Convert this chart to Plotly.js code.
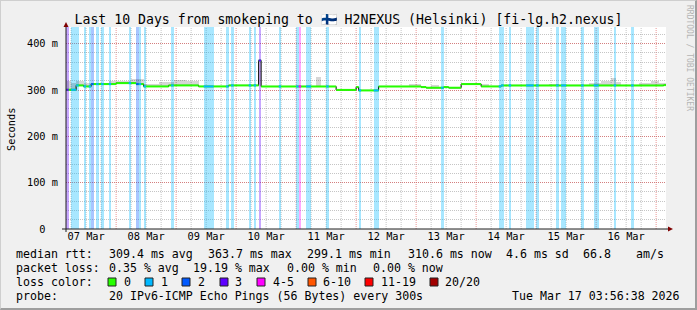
<!DOCTYPE html>
<html><head><meta charset="utf-8">
<script src="https://cdn.plot.ly/plotly-3.0.1.min.js"></script>
<style>
html,body{margin:0;padding:0;background:#f0f0f0;}
#wrap{position:relative;width:697px;height:310px;overflow:hidden;}
#chart{width:697px;height:310px;}
#frame{position:absolute;left:0;top:0;width:697px;height:310px;box-sizing:border-box;border-right:2px solid #9e9e9e;border-bottom:2px solid #9e9e9e;border-top:1px solid #cfcfcf;border-left:1px solid #cfcfcf;pointer-events:none;}
</style></head>
<body><div id="wrap"><div id="chart"></div><div id="frame"></div></div>
<script>
// ---- time frame (hours counted from 2026-03-07 00:00) ----
const rangeStartHour = 3.944;   // Sat Mar 07 03:56:38
const rangeEndHour = 243.944;   // Tue Mar 17 03:56:38
const dayDates = ['2026-03-07','2026-03-08','2026-03-09','2026-03-10','2026-03-11','2026-03-12','2026-03-13','2026-03-14','2026-03-15','2026-03-16'];
const dayLabels = ['07 Mar','08 Mar','09 Mar','10 Mar','11 Mar','12 Mar','13 Mar','14 Mar','15 Mar','16 Mar'];
const yTickVals = [0,100,200,300,400];
const yTickText = ['0','100 m','200 m','300 m','400 m'];

// ---- median rtt (ms), step starts ----
const medianStartHour = [3.944, 8, 11, 14, 24, 32, 35, 45, 57, 69, 81, 82, 112, 120, 121, 129, 146, 148, 155, 157, 162, 170, 178, 243];
const medianMs        = [300.5, 309.9, 307.7, 312.8, 314.9, 312.8, 307.7, 309.9, 307.7, 309.9, 363.7, 307.7, 300.2, 306.3, 299.1, 307.7, 306.3, 304.9, 306.3, 304.9, 312.8, 307.7, 309.9, 310.6];

// ---- packet loss events (lost pings out of 20) ----
const lossStartHour = [4, 6, 11, 13, 14, 16, 18, 21, 29, 32, 33, 35, 46, 59, 68, 70, 77, 79, 81, 89, 96, 97, 100, 108, 121, 127, 154, 177, 181, 188, 192, 200, 202, 210, 215, 223, 230];
const lossEndHour   = [5, 9, 12, 14, 15, 17, 19, 22, 30, 33, 34, 36, 47, 63, 69, 71, 78, 80, 82, 90, 97, 98, 102, 109, 122, 129, 155, 179, 182, 191, 193, 201, 204, 211, 217, 224, 231];
const lossPings     = [3, 1, 1, 1, 2, 1, 1, 1, 1, 2, 1, 1, 1, 1, 1, 1, 1, 1, 3, 1, 1, 4, 1, 1, 1, 1, 1, 1, 1, 1, 1, 1, 1, 1, 1, 1, 1];

// ---- smoke (upper spread of pings, ms) ----
const smokeStartHour = [3.944, 6, 8, 11, 14, 21, 30, 35, 41, 47, 52, 79, 104, 141, 150, 170, 197, 213, 218, 222, 224, 233, 238, 241];
const smokeEndHour   = [6, 8, 11, 14, 21, 30, 35, 41, 47, 52, 57, 80, 106, 146, 153, 173, 201, 218, 222, 224, 226, 238, 241, 243.944];
const smokeHighMs    = [318.5, 316, 319, 316, 315, 320, 324, 312, 318, 322, 319, 314, 329, 312, 311, 314, 313, 316, 319, 327, 318, 315, 320, 316];

// ---- legend ----
const lossLabels = ['0','1','2','3','4-5','6-10','11-19','20/20'];
const lossColors = ['#26ff00','#00b8ff','#0059ff','#5e00ff','#ff00ff','#ff5500','#ff0000','#a10000'];

const YMAX = 436;
const BASE_MS = Date.UTC(2026,2,7,0,0,0);
function hd(h){ return new Date(BASE_MS + h*3600000).toISOString().replace('T',' ').slice(0,19); }
function cat(n){ if(n<=0) return 0; if(n<=3) return n; if(n<=5) return 4; if(n<=10) return 5; if(n<=19) return 6; return 7; }
function medAt(h){ let v = medianMs[0]; for(let i=0;i<medianStartHour.length;i++){ if(medianStartHour[i]<=h) v=medianMs[i]; } return v; }
function hexA(hex,a){ const r=parseInt(hex.slice(1,3),16),g=parseInt(hex.slice(3,5),16),b=parseInt(hex.slice(5,7),16); return `rgba(${r},${g},${b},${a})`; }

const traces = [];
// loss background bars
traces.push({type:'bar', x: lossStartHour.map((s,i)=>hd((s+lossEndHour[i])/2)),
  width: lossStartHour.map((s,i)=>(lossEndHour[i]-s)*3600000),
  y: lossStartHour.map(()=>YMAX), base: lossStartHour.map(()=>0),
  marker:{color: lossPings.map(n=>hexA(lossColors[cat(n)],0.34)), line:{width:0}}, hoverinfo:'skip'});
// smoke
traces.push({type:'bar', x: smokeStartHour.map((s,i)=>hd((s+smokeEndHour[i])/2)),
  width: smokeStartHour.map((s,i)=>(smokeEndHour[i]-s)*3600000),
  base: smokeStartHour.map((s,i)=>medAt((s+smokeEndHour[i])/2)),
  y: smokeStartHour.map((s,i)=>smokeHighMs[i]-medAt((s+smokeEndHour[i])/2)),
  marker:{color:'rgba(0,0,0,0.16)', line:{width:0}}, hoverinfo:'skip'});
// black step line
const bx = medianStartHour.map(hd).concat([hd(rangeEndHour)]);
const by = medianMs.concat([medianMs[medianMs.length-1]]);
traces.push({type:'scatter', mode:'lines', x:bx, y:by, line:{color:'#000', width:1, shape:'hv'}, hoverinfo:'skip'});
// colored segments
function segs(ranges){ const xs=[], ys=[]; ranges.forEach(([s,e])=>{
  for(let i=0;i<medianStartHour.length;i++){
    const a=medianStartHour[i], b=(i+1<medianStartHour.length)?medianStartHour[i+1]:rangeEndHour;
    const lo=Math.max(a,s), hi=Math.min(b,e);
    if(hi>lo){ xs.push(hd(lo),hd(hi),null); ys.push(medianMs[i],medianMs[i],null); }
  }}); return {xs,ys}; }
const g = segs([[rangeStartHour, rangeEndHour]]);
traces.push({type:'scatter', mode:'lines', x:g.xs, y:g.ys, line:{color:lossColors[0], width:2}, hoverinfo:'skip'});
for(let c=1;c<8;c++){
  const r=[]; lossPings.forEach((n,i)=>{ if(cat(n)===c) r.push([lossStartHour[i],lossEndHour[i]]); });
  if(!r.length) continue;
  const s=segs(r);
  traces.push({type:'scatter', mode:'lines', x:s.xs, y:s.ys, line:{color:lossColors[c], width:2}, hoverinfo:'skip'});
}

// geometry helpers (plot area 66..666 x 27..229 px)
const PL=66, PR=666, PT=27, PB=229;
const px=(p)=>(p-PL)/(PR-PL), py=(q)=>(PB-q)/(PB-PT);
const MONO='DejaVu Sans Mono';

const shapes=[];
// vertical grid: red at midnight, grey every 6 h
for(let h=0; h<=248; h+=6){
  if(h<rangeStartHour||h>rangeEndHour) continue;
  const major = h%24===0;
  shapes.push({type:'line', xref:'x', yref:'paper', x0:hd(h), x1:hd(h), y0:0, y1:1, layer:'below',
    line:{color: major?'rgba(222,80,80,0.6)':'rgba(150,150,150,0.55)', width:1, dash:'1px,1px'}});
}
// axes
shapes.push({type:'line', xref:'paper', yref:'paper', x0:px(66), x1:px(66), y0:py(232), y1:py(25), line:{color:'#1f1f1f', width:1}});
shapes.push({type:'line', xref:'paper', yref:'paper', x0:px(62), x1:px(670), y0:py(229), y1:py(229), line:{color:'#1f1f1f', width:1}});
shapes.push({type:'path', xref:'paper', yref:'paper', path:`M ${px(63.5)} ${py(27)} L ${px(66)} ${py(22)} L ${px(68.5)} ${py(27)} Z`, fillcolor:'#7f0000', line:{width:0}});
shapes.push({type:'path', xref:'paper', yref:'paper', path:`M ${px(668)} ${py(226.5)} L ${px(673)} ${py(229)} L ${px(668)} ${py(231.5)} Z`, fillcolor:'#7f0000', line:{width:0}});
// legend boxes
const boxX=[108,145,182,220,257,308,365,430];
const labX=[123,160,197,234,272,322,380,444];
boxX.forEach((b,i)=>shapes.push({type:'rect', xref:'paper', yref:'paper', x0:px(b), x1:px(b+8), y0:py(286), y1:py(278), fillcolor:lossColors[i], line:{color:'#222', width:1}}));

const ann=[];
function t(text,x,y,opt){ ann.push(Object.assign({text, xref:'paper', yref:'paper', x:px(x), y:py(y), showarrow:false, xanchor:'left', yanchor:'middle', borderpad:0, font:{family:MONO, size:11.6, color:'#000'}},opt||{})); }
t('median rtt:',15,254); t('309.4 ms avg',107.5,254); t('363.7 ms max',207,254); t('299.1 ms min',306,254); t('310.6 ms now',407,254); t('4.6 ms sd',505,254); t('66.8',582,254); t('am/s',635,254);
t('packet loss:',15,268); t('0.35 % avg',107.5,268); t('19.19 % max',191.5,268); t('0.00 % min',286,268); t('0.00 % now',372,268);
t('loss color:',15,282); lossLabels.forEach((l,i)=>t(l,labX[i],282));
t('probe:',15,296); t('20 IPv6-ICMP Echo Pings (56 Bytes) every 300s',107.5,296); t('Tue Mar 17 03:56:38 2026',680.5,296,{xanchor:'right'});
t('Seconds',11,130,{xanchor:'center', textangle:-90, font:{family:MONO,size:10.3,color:'#000'}});
t('RRDTOOL / TOBI OETIKER',690,58,{xanchor:'center', textangle:90, font:{family:MONO,size:8,color:'#b4b4b4'}});

const nb='\u00a0';
const layout={
  width:697, height:310, margin:{l:PL, r:697-PR, t:PT, b:310-PB}, paper_bgcolor:'#f0f0f0', plot_bgcolor:'#ffffff',
  showlegend:false, hovermode:false, barmode:'overlay', bargap:0,
  title:{text:'Last 10 Days from smokeping to 🇫🇮 H2NEXUS (Helsinki) [fi-lg.h2.nexus]', xref:'container', yref:'container', x:0.5, xanchor:'center', y:1-19/310, yanchor:'middle', font:{family:MONO, size:13.2, color:'#000'}},
  xaxis:{type:'date', range:[hd(rangeStartHour), hd(rangeEndHour)], tickmode:'array', tickvals:dayDates.map(d=>d+' 12:00'), ticktext:dayLabels,
    showgrid:false, zeroline:false, showline:false, ticks:'', tickfont:{family:MONO, size:10.3, color:'#000'}, fixedrange:true},
  yaxis:{range:[0,YMAX], tickmode:'array', tickvals:yTickVals, ticktext:yTickText.map(s=>{const p=5-s.length; const l=Math.floor(p/2); return nb.repeat(l)+s+nb.repeat(p-l);}),
    showgrid:true, gridcolor:'rgba(222,80,80,0.6)', griddash:'1px,1px', gridwidth:1,
    minor:{dtick:20, tick0:0, showgrid:true, gridcolor:'rgba(150,150,150,0.55)', griddash:'1px,1px', gridwidth:1},
    zeroline:false, showline:false, ticks:'outside', ticklen:5, tickcolor:'rgba(0,0,0,0)', tickfont:{family:MONO, size:10.3, color:'#000'}, fixedrange:true},
  shapes, annotations:ann
};
Plotly.newPlot('chart', traces, layout, {staticPlot:true, displayModeBar:false});
</script></body></html>
